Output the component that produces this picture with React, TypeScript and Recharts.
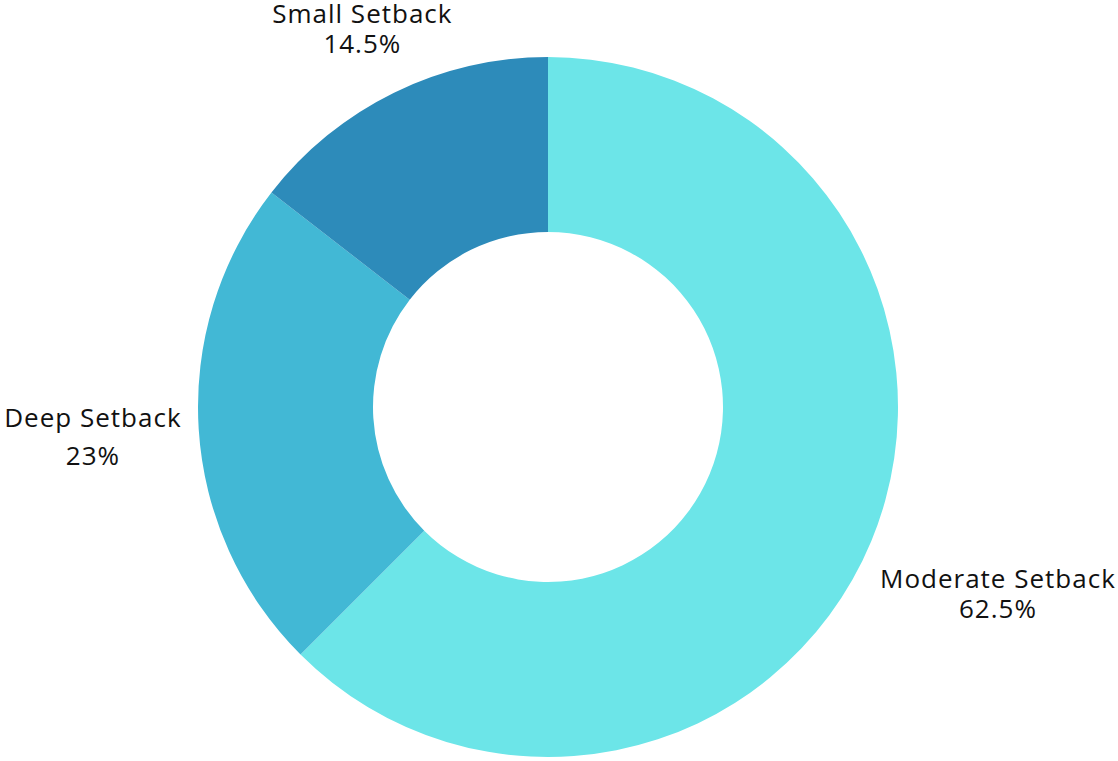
import { PieChart, Pie, Cell } from "recharts";

const categories = ["Moderate Setback", "Deep Setback", "Small Setback"];
const shares = [62.5, 23, 14.5];
const shareLabels = ["62.5%", "23%", "14.5%"];
const colors = ["#6ce5e8", "#42b8d5", "#2d8bba"];

const data = categories.map((name, i) => ({ name, value: shares[i] }));

// how far outside the ring each label sits, and the gap between its two lines
const labelOffset = [137, 106, 72];
const lineGap = [30, 38, 30];

const RADIAN = Math.PI / 180;

const renderLabel = (props: any) => {
  const { cx, cy, midAngle, outerRadius, index } = props;
  const r = outerRadius + labelOffset[index];
  const x = cx + r * Math.cos(-midAngle * RADIAN);
  const y = cy + r * Math.sin(-midAngle * RADIAN);
  const gap = lineGap[index];
  return (
    <text
      x={x}
      y={y}
      textAnchor="middle"
      dominantBaseline="central"
      fill="#111"
      fontSize={26}
      letterSpacing={1}
      fontFamily="'Open Sans', sans-serif"
    >
      <tspan x={x} y={y - gap / 2}>{categories[index]}</tspan>
      <tspan x={x} y={y + gap / 2}>{shareLabels[index]}</tspan>
    </text>
  );
};

export default function App() {
  return (
    <div style={{ position: "absolute", left: 0, top: 0, width: 1118, height: 761, background: "#fff" }}>
      <PieChart width={1118} height={761} margin={{ top: 0, right: 0, bottom: 0, left: 0 }}>
        <Pie
          data={data}
          dataKey="value"
          cx={548}
          cy={407}
          innerRadius={175}
          outerRadius={350}
          startAngle={90}
          endAngle={-270}
          stroke="none"
          labelLine={false}
          label={renderLabel}
          isAnimationActive={false}
        >
          {data.map((d, i) => (
            <Cell key={d.name} fill={colors[i]} />
          ))}
        </Pie>
      </PieChart>
    </div>
  );
}
